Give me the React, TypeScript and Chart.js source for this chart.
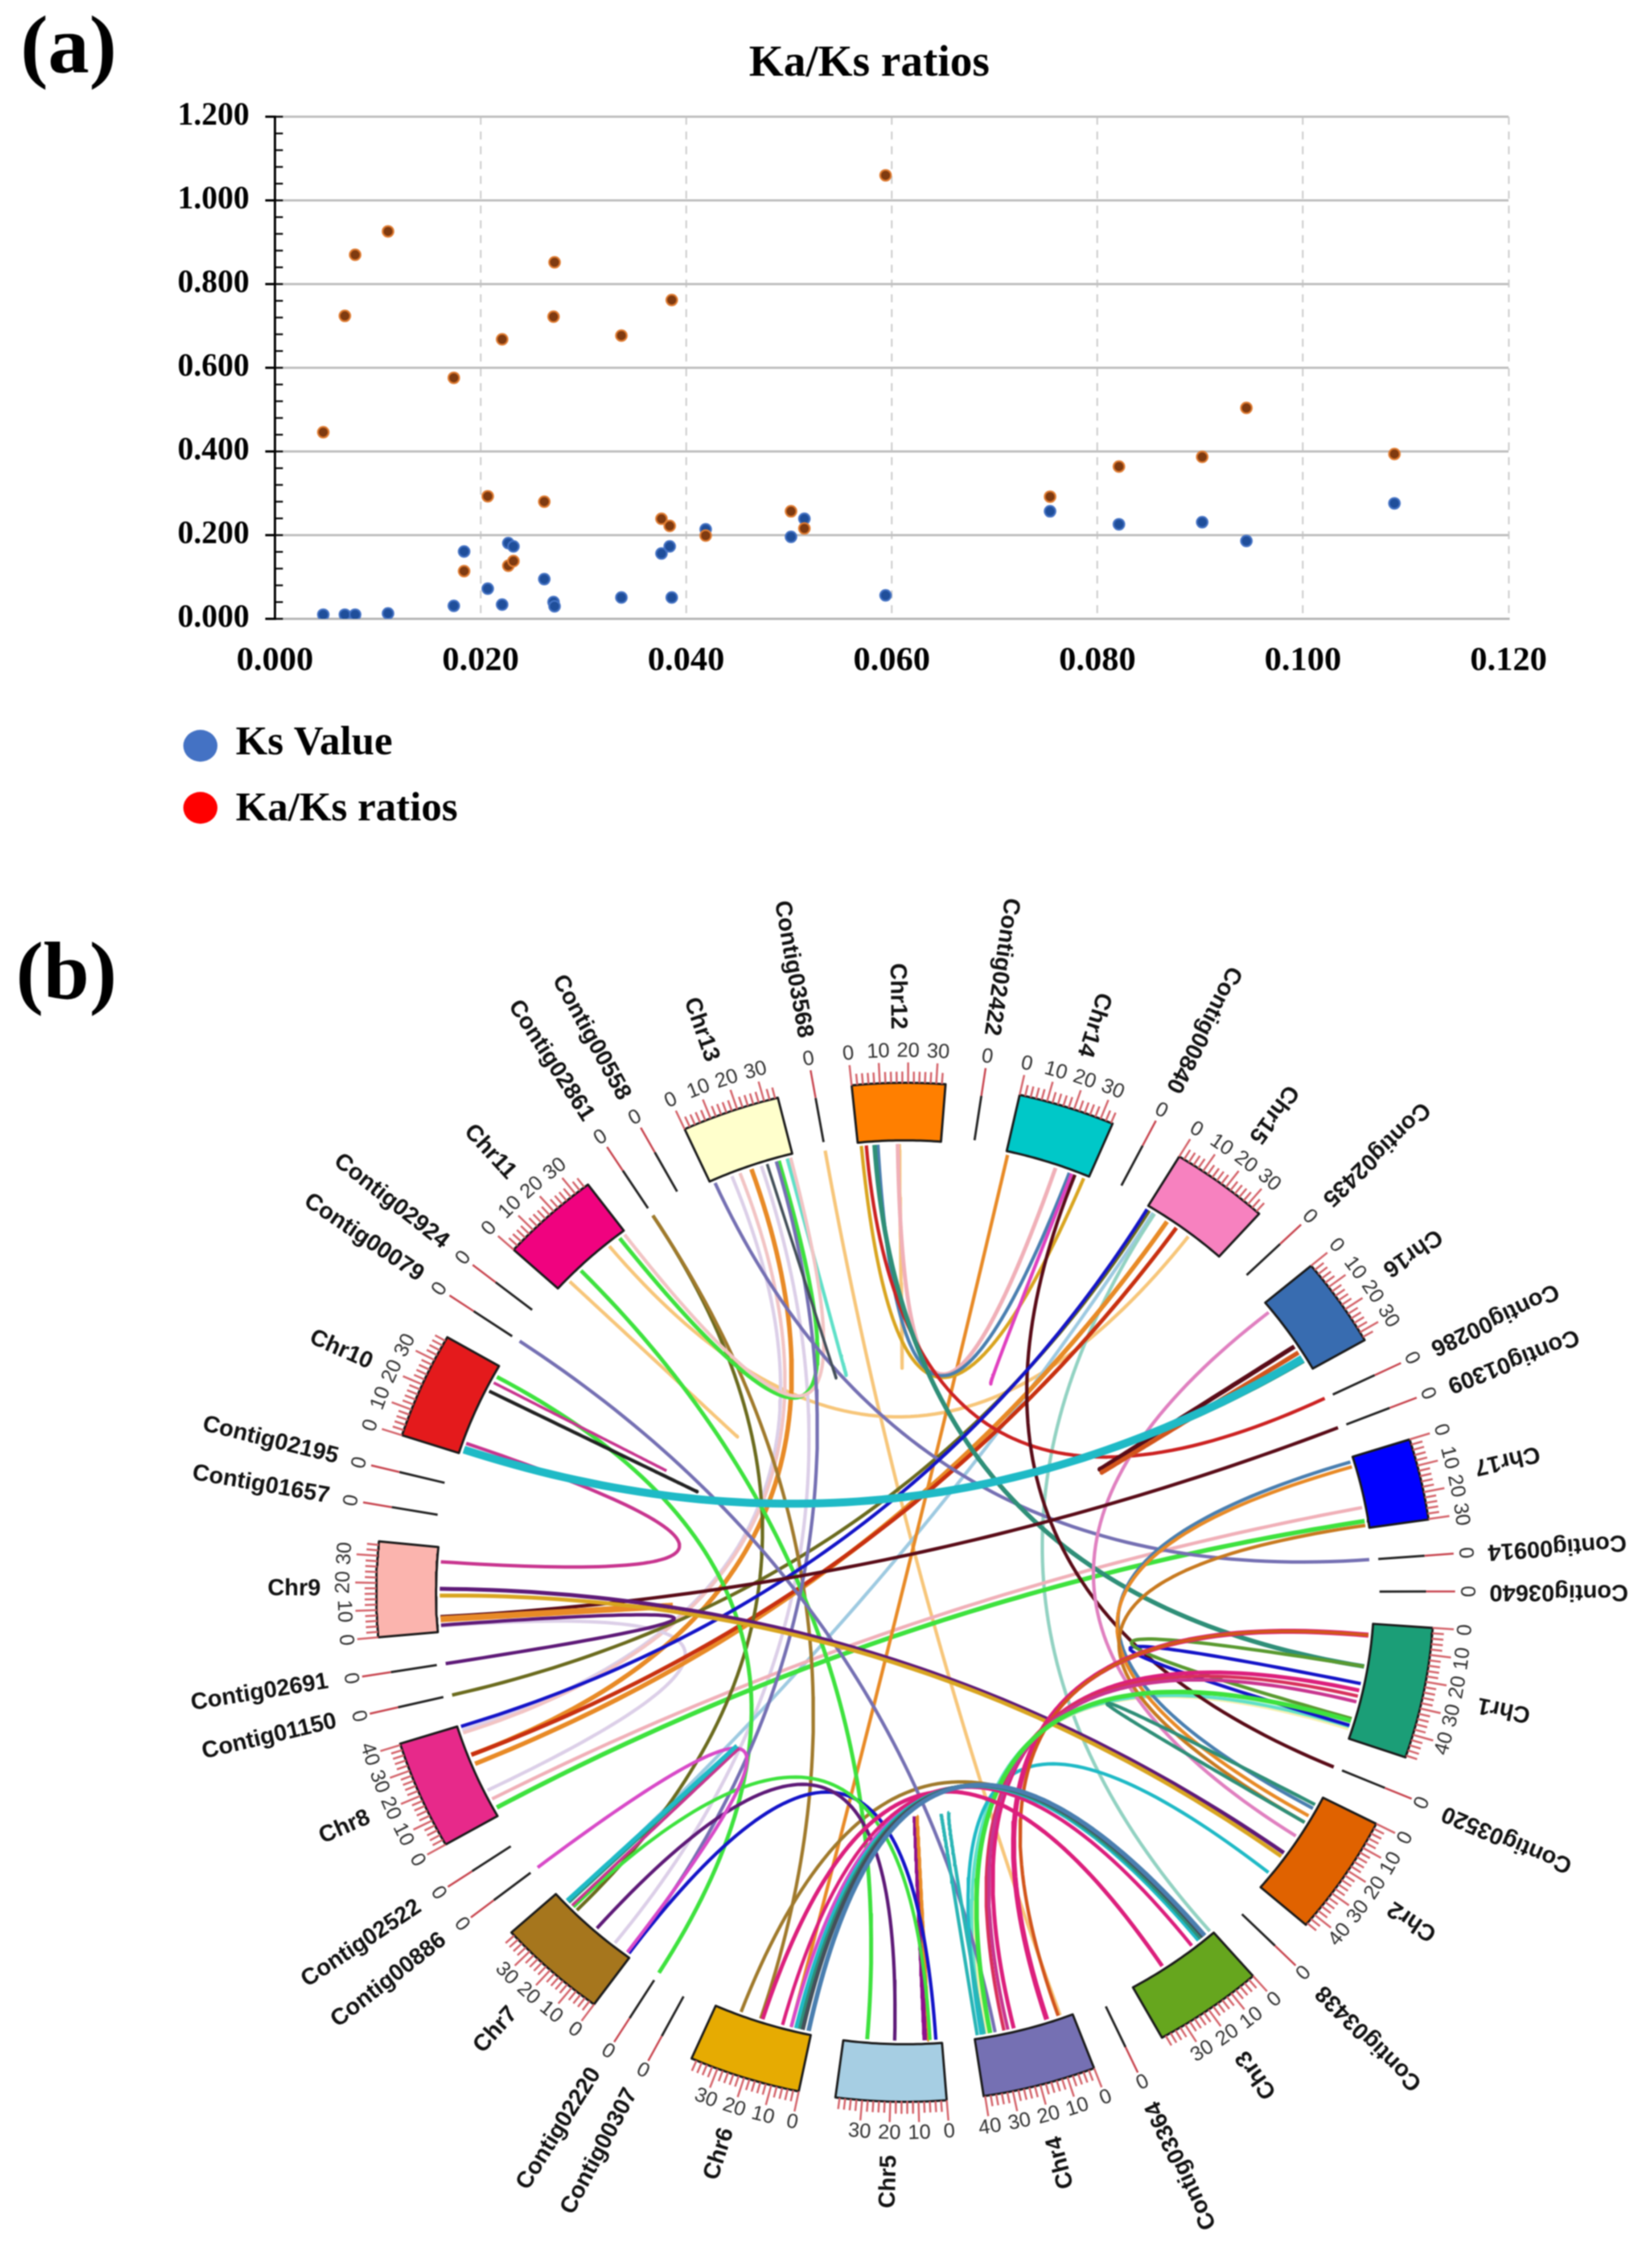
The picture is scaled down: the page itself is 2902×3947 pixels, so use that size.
import React, { useEffect, useRef } from "react";
import { Chart, registerables } from "chart.js";

Chart.register(...registerables);

// ---------- panel (a) ----------
const ksX = [0.0047, 0.0068, 0.0078, 0.011, 0.0174, 0.0184, 0.0207, 0.0221, 0.0227, 0.0232, 0.0262, 0.0271, 0.0272, 0.0337, 0.0376, 0.0384, 0.0386, 0.0419, 0.0502, 0.0515, 0.0594, 0.0754, 0.0821, 0.0902, 0.0945, 0.1089];
const ksValue = [0.01, 0.01, 0.01, 0.013, 0.031, 0.161, 0.072, 0.034, 0.181, 0.173, 0.095, 0.04, 0.03, 0.051, 0.156, 0.173, 0.051, 0.214, 0.196, 0.239, 0.056, 0.257, 0.226, 0.231, 0.186, 0.276];
const kaKsRatio = [0.446, 0.724, 0.87, 0.926, 0.576, 0.114, 0.293, 0.668, 0.127, 0.138, 0.28, 0.722, 0.852, 0.677, 0.239, 0.222, 0.762, 0.199, 0.257, 0.216, 1.06, 0.292, 0.364, 0.387, 0.504, 0.394];

// ---------- panel (b) ----------
const sectorNames = ["Chr1", "Contig03520", "Chr2", "Contig03438", "Chr3", "Contig03364", "Chr4", "Chr5", "Chr6", "Contig00307", "Contig02220", "Chr7", "Contig00886", "Contig02522", "Chr8", "Contig01150", "Contig02691", "Chr9", "Contig01657", "Contig02195", "Chr10", "Contig00079", "Contig02924", "Chr11", "Contig02861", "Contig00558", "Chr13", "Contig03568", "Chr12", "Contig02422", "Chr14", "Contig00840", "Chr15", "Contig02435", "Chr16", "Contig00286", "Contig01309", "Chr17", "Contig00914", "Contig03640"];
const chrLengths: Record<string, number> = { Chr1: 48.7, Chr2: 44.8, Chr3: 39.5, Chr4: 40.5, Chr5: 39.5, Chr6: 39.9, Chr7: 39.5, Chr8: 40.5, Chr9: 35.3, Chr10: 39.5, Chr11: 35.6, Chr12: 33.3, Chr13: 35, Chr14: 34.6, Chr15: 35.3, Chr16: 33.3, Chr17: 30.2 };
const chrColors: Record<string, string> = { Chr1: "#1b9e77", Chr2: "#e06200", Chr3: "#66a61e", Chr4: "#7570b3", Chr5: "#a6cee3", Chr6: "#e6ab02", Chr7: "#a6761d", Chr8: "#e7298a", Chr9: "#fbb4ae", Chr10: "#e41a1c", Chr11: "#f0027f", Chr12: "#ff7f00", Chr13: "#ffffcc", Chr14: "#00c8c8", Chr15: "#f781bf", Chr16: "#386cb0", Chr17: "#0000ff" };

const purple = "#7570b3", green = "#3ee23e", paleOrange = "#f7c67a", orange = "#e88a26", maroon = "#5a0c18", blue = "#1414c8", olive = "#6b6b1e", brown = "#a07a2c", teal = "#2f8f78", lav = "#dccfe8", palePink = "#f2c4c4", pink = "#f0b0b8", magenta = "#c8358f", hot = "#dc1f7c", dpurple = "#5e1a78", steel = "#4a7fb0", gold = "#d9a520", red = "#cc2222", cyan = "#1fbac6", mint = "#5fe0c8", paleBlue = "#9ecae1", paleTeal = "#92d2c2", slate = "#44505a", orchid = "#d84ac8", violet = "#8d108c", rust = "#d2551c", olivegreen = "#5a9a30", yellowish = "#f5f0b0", pinkish = "#e080c0", brick = "#c83010", rose = "#d8305c";

// from sector, fraction along it, to sector, fraction along it, colour, width, share of the curve shown
type Link = [string, number, string, number, string, number, number?];
const links: Link[] = [
  ["Chr13", 0.93, "Chr13", 0.93, mint, 6, 0.5],
  ["Chr11", 0.15, "Chr11", 0.15, paleOrange, 6, 0.5],
  ["Chr11", 0.76, "Chr15", 0.58, paleOrange, 6],
  ["Contig03568", 0, "Chr4", 0.12, paleOrange, 6],
  ["Chr12", 0.5, "Chr12", 0.5, paleOrange, 6, 0.5],
  ["Chr13", 0.26, "Chr8", 0.95, lav, 6],
  ["Chr13", 0.36, "Chr8", 0.92, palePink, 6],
  ["Chr13", 0.62, "Chr7", 0.21, lav, 6],
  ["Chr9", 0.07, "Chr8", 0.28, lav, 6],
  ["Chr15", 0.09, "Chr7", 0.86, paleBlue, 6],
  ["Chr15", 0.11, "Chr3", 0.02, paleTeal, 6],
  ["Chr1", 0.92, "Chr4", 0.88, yellowish, 6],
  ["Chr4", 0.91, "Chr1", 0.9, mint, 6],
  ["Chr17", 0.71, "Chr8", 0.18, pink, 6],
  ["Chr17", 0.9, "Chr8", 0.08, green, 8],
  ["Chr14", 0.02, "Chr6", 0.21, orange, 6],
  ["Chr13", 0.5, "Chr8", 0.68, orange, 8],
  ["Chr15", 0.28, "Chr8", 0.58, orange, 8],
  ["Chr15", 0.41, "Chr8", 0.68, brick, 7],
  ["Chr15", 0.04, "Contig01150", 0, olive, 6],
  ["Contig02861", 0, "Chr7", 0.73, olive, 6],
  ["Contig02861", 0, "Chr6", 0.53, brown, 6],
  ["Chr6", 0.74, "Chr3", 0.13, brown, 6],
  ["Chr11", 0.33, "Chr5", 0.76, green, 7],
  ["Chr10", 0.89, "Contig02220", 0, green, 7],
  ["Chr11", 0.91, "Chr13", 0.83, green, 7],
  ["Chr11", 0.98, "Chr13", 0.97, palePink, 6],
  ["Chr13", 0.05, "Contig00914", 0, purple, 6],
  ["Contig00079", 0, "Chr4", 0.79, purple, 6],
  ["Chr13", 0.8, "Chr7", 0.03, purple, 6],
  ["Chr13", 0.69, "Chr13", 0.69, slate, 5, 0.5],
  ["Chr10", 0.82, "Chr10", 0.82, magenta, 5, 0.3],
  ["Chr10", 0.72, "Chr10", 0.72, "#222222", 6, 0.5],
  ["Chr10", 0.12, "Chr9", 0.83, magenta, 6],
  ["Chr12", 0.04, "Chr14", 0.95, gold, 6],
  ["Chr12", 0.48, "Chr14", 0.6, pink, 7],
  ["Chr12", 0.24, "Chr14", 0.77, steel, 6],
  ["Chr12", 0.1, "Contig00286", 0, red, 6],
  ["Chr12", 0.2, "Chr1", 0.37, teal, 8],
  ["Chr14", 0.8, "Chr14", 0.92, "#e040c0", 6, 0.5],
  ["Chr14", 0.84, "Contig03520", 0, maroon, 6],
  ["Chr15", 0.01, "Chr8", 0.99, blue, 6],
  ["Chr16", 0.12, "Chr2", 0.43, pinkish, 6],
  ["Chr16", 0.65, "Chr16", 0.65, maroon, 8, 0.5],
  ["Chr16", 0.74, "Chr16", 0.74, rust, 8, 0.5],
  ["Contig01309", 0, "Chr9", 0.18, maroon, 6],
  ["Chr9", 0.15, "Chr9", 0.15, orange, 11, 0.5],
  ["Chr9", 0.08, "Contig02691", 0, dpurple, 6],
  ["Chr2", 0.62, "Chr9", 0.51, dpurple, 7],
  ["Chr2", 0.66, "Chr9", 0.43, gold, 7],
  ["Chr17", 0.06, "Chr2", 0.13, steel, 6],
  ["Chr17", 0.13, "Chr2", 0.21, orange, 6],
  ["Chr17", 0.96, "Chr2", 0.28, "#c87a20", 6],
  ["Chr2", 0.09, "Chr2", 0.3, teal, 6, 0.5],
  ["Chr2", 0.28, "Chr2", 0.12, teal, 6, 0.5],
  ["Chr2", 0.85, "Chr4", 0.93, cyan, 6],
  ["Chr1", 0.52, "Chr1", 0.89, blue, 6],
  ["Chr1", 0.37, "Chr1", 0.83, olivegreen, 6],
  ["Chr1", 0.1, "Chr4", 0.26, hot, 9],
  ["Chr1", 0.1, "Chr4", 0.14, rust, 6],
  ["Chr1", 0.58, "Chr4", 0.6, hot, 7],
  ["Chr1", 0.63, "Chr4", 0.7, rose, 6],
  ["Chr1", 0.68, "Chr4", 0.66, magenta, 6],
  ["Chr1", 0.85, "Chr4", 0.84, green, 8],
  ["Chr4", 0.97, "Chr4", 0.97, "#2ab5b5", 6, 0.5],
  ["Chr4", 0.9, "Chr4", 0.72, "#2ab5b5", 6, 0.5],
  ["Chr5", 0.17, "Chr5", 0.17, violet, 9, 0.5],
  ["Chr5", 0.13, "Chr5", 0.13, orange, 6, 0.5],
  ["Chr7", 0.03, "Chr5", 0.06, blue, 6],
  ["Chr7", 0.78, "Chr5", 0.12, green, 6],
  ["Chr7", 0.45, "Chr5", 0.48, dpurple, 6],
  ["Contig00886", 0, "Chr7", 0.05, orchid, 6],
  ["Chr7", 0.85, "Chr7", 0.85, teal, 7, 0.5],
  ["Chr7", 0.87, "Chr7", 0.87, cyan, 8, 0.5],
  ["Chr7", 0.8, "Chr7", 0.8, magenta, 5, 0.5],
  ["Chr6", 0.51, "Chr3", 0.63, hot, 7],
  ["Chr6", 0.21, "Chr3", 0.26, orchid, 6],
  ["Chr6", 0.3, "Chr3", 0.26, hot, 6],
  ["Chr6", 0.16, "Chr3", 0.17, cyan, 7],
  ["Chr6", 0.12, "Chr3", 0.14, teal, 7],
  ["Chr6", 0.09, "Chr3", 0.11, slate, 7],
  ["Chr6", 0.03, "Chr3", 0.09, steel, 8],
  ["Chr10", 0.04, "Chr16", 0.86, teal, 8],
  ["Chr10", 0.05, "Chr16", 0.83, cyan, 14],
];

const K = 0.306; // degrees per Mb
const FIRST = 94;
const R_IN = 0.887, R_OUT = 1.0, R_LINK = 0.88;
const COL_TICK = "#d4636a";
const FONT_SANS = '"Liberation Sans", Arial, sans-serif';
const FONT_SERIF = '"Liberation Serif", serif';

type Seg = { name: string; a0: number; a1: number; len: number; isChr: boolean };
const sectors: Seg[] = (() => {
  const contigLen = 0.2;
  const lens = sectorNames.map((n) => chrLengths[n] ?? contigLen);
  const total = lens.reduce((s, v) => s + v * K, 0);
  const gap = (360 - total) / sectorNames.length;
  let a = FIRST;
  return sectorNames.map((name, i) => {
    const s = { name, a0: a, a1: a + lens[i] * K, len: lens[i], isChr: name in chrLengths };
    a = s.a1 + gap;
    return s;
  });
})();
const byName = Object.fromEntries(sectors.map((s) => [s.name, s]));
const polar = (deg: number, r: number) => {
  const t = (deg * Math.PI) / 180;
  return { x: r * Math.sin(t), y: r * Math.cos(t) };
};
const gapPt = { x: NaN, y: NaN };

function linkCurve(l: Link) {
  const [a, fa, b, fb, , , tEnd = 1] = l;
  const sa = byName[a], sb = byName[b];
  const p0 = polar(sa.a0 + (sa.a1 - sa.a0) * fa, R_LINK);
  const p2 = polar(sb.a0 + (sb.a1 - sb.a0) * fb, R_LINK);
  const pts = [];
  const n = 70;
  for (let i = 0; i <= n; i++) {
    const t = (i / n) * tEnd;
    pts.push({ x: (1 - t) * (1 - t) * p0.x + t * t * p2.x, y: (1 - t) * (1 - t) * p0.y + t * t * p2.y });
  }
  return pts;
}

function sectorShape(s: Seg) {
  const pts = [];
  const n = 24;
  for (let i = 0; i <= n; i++) pts.push(polar(s.a0 + ((s.a1 - s.a0) * i) / n, R_OUT));
  for (let i = n; i >= 0; i--) pts.push(polar(s.a0 + ((s.a1 - s.a0) * i) / n, R_IN));
  pts.push(pts[0]);
  return pts;
}

function tickPath(s: Seg) {
  const pts: { x: number; y: number }[] = [];
  for (let v = 0; v <= s.len; v += 2) {
    const deg = s.a0 + v * K;
    pts.push(polar(deg, R_OUT), polar(deg, v % 10 === 0 ? 1.04 : 1.022), gapPt);
  }
  return pts;
}

const lineSet = (data: any[], color: string, width: number, extra: any = {}) => ({
  data, borderColor: color, borderWidth: width, showLine: true, pointRadius: 0, pointHoverRadius: 0,
  tension: 0, spanGaps: false, borderCapStyle: "butt", borderJoinStyle: "round", fill: false, ...extra,
});

const circosText = {
  id: "circosText",
  afterDatasetsDraw(chart: any) {
    const { ctx, scales } = chart;
    const at = (deg: number, r: number) => {
      const p = polar(deg, r);
      return [scales.x.getPixelForValue(p.x), scales.y.getPixelForValue(p.y)];
    };
    ctx.save();
    ctx.textBaseline = "middle";
    for (const s of sectors) {
      ctx.fillStyle = "#333333";
      ctx.font = `36px ${FONT_SANS}`;
      ctx.textAlign = "center";
      for (let v = 0; v <= s.len; v += 10) {
        const deg = s.a0 + v * K;
        const norm = ((deg % 360) + 360) % 360;
        const rot = norm > 90 && norm < 270 ? norm - 180 : norm;
        const [x, y] = at(deg, 1.062);
        ctx.save();
        ctx.translate(x, y);
        ctx.rotate((rot * Math.PI) / 180);
        ctx.fillText(String(v), 0, 0);
        ctx.restore();
      }
      const mid = (s.a0 + s.a1) / 2;
      const [x, y] = at(mid, 1.105);
      ctx.save();
      ctx.translate(x, y);
      ctx.rotate(((mid + 90) * Math.PI) / 180);
      ctx.textAlign = "right";
      ctx.fillStyle = "#111111";
      ctx.font = `bold 41px ${FONT_SANS}`;
      ctx.fillText(s.name, 0, 0);
      ctx.restore();
    }
    ctx.restore();
  },
};

const scatterExtras = {
  id: "scatterExtras",
  afterDraw(chart: any) {
    const { ctx, scales } = chart;
    const { y } = scales;
    ctx.save();
    ctx.strokeStyle = "#000";
    ctx.lineWidth = 3;
    for (let i = 0; i <= 30; i++) {
      const py = y.getPixelForValue(i * 0.04);
      ctx.beginPath();
      ctx.moveTo(485, py);
      ctx.lineTo(497, py);
      ctx.stroke();
    }
    ctx.fillStyle = "#000";
    ctx.textBaseline = "middle";
    ctx.textAlign = "center";
    ctx.font = `bold 78px ${FONT_SERIF}`;
    ctx.fillText("Ka/Ks ratios", 1527, 113);
    ctx.textAlign = "left";
    ctx.font = `bold 145px ${FONT_SERIF}`;
    ctx.fillText("(a)", 36, 90);
    ctx.font = `bold 72px ${FONT_SERIF}`;
    ctx.fillText("Ks Value", 414, 1306);
    ctx.fillText("Ka/Ks ratios", 414, 1422);
    ctx.fillStyle = "#4472c4";
    ctx.beginPath();
    ctx.ellipse(352, 1310, 30, 28, 0, 0, Math.PI * 2);
    ctx.fill();
    ctx.fillStyle = "#ff0000";
    ctx.beginPath();
    ctx.ellipse(352, 1419, 30, 28, 0, 0, Math.PI * 2);
    ctx.fill();
    ctx.restore();
  },
};

const panelB = {
  id: "panelB",
  afterDraw(chart: any) {
    const { ctx } = chart;
    ctx.save();
    ctx.fillStyle = "#000";
    ctx.textBaseline = "middle";
    ctx.textAlign = "left";
    ctx.font = `bold 145px ${FONT_SERIF}`;
    ctx.fillText("(b)", 28, 217);
    ctx.restore();
  },
};

export default function App() {
  const aRef = useRef<HTMLCanvasElement>(null);
  const bRef = useRef<HTMLCanvasElement>(null);

  useEffect(() => {
    const chartA = new Chart(aRef.current!, {
      type: "scatter",
      data: {
        datasets: [
          {
            label: "Ka/Ks ratios",
            data: ksX.map((x, i) => ({ x, y: kaKsRatio[i] })),
            backgroundColor: "#7f3a10",
            borderColor: "#e07b30",
            borderWidth: 3,
            pointRadius: 9.5,
          },
          {
            label: "Ks Value",
            data: ksX.map((x, i) => ({ x, y: ksValue[i] })),
            backgroundColor: "#1f4e9a",
            borderColor: "#4472c4",
            borderWidth: 3,
            pointRadius: 9.5,
          },
        ],
      },
      options: {
        animation: false,
        responsive: false,
        devicePixelRatio: 1,
        layout: { padding: { top: 205, right: 252, left: 0, bottom: 0 } },
        plugins: { legend: { display: false }, tooltip: { enabled: false } },
        scales: {
          x: {
            type: "linear",
            min: 0,
            max: 0.12,
            afterFit: (s: any) => { s.height = 413; },
            grid: { color: "#d0d0d0", lineWidth: 3, drawTicks: false },
            border: { display: true, color: "#b5b5b5", width: 4, dash: [14, 12] },
            ticks: {
              stepSize: 0.02,
              color: "#000",
              padding: 38,
              maxRotation: 0,
              font: { family: "Liberation Serif", size: 60, weight: "bold" },
              callback: (v: any) => Number(v).toFixed(3),
            },
          },
          y: {
            type: "linear",
            min: 0,
            max: 1.2,
            afterFit: (s: any) => { s.width = 483; },
            grid: { color: "#bfbfbf", lineWidth: 4, tickColor: "#000", tickLength: 17, tickWidth: 4 },
            border: { display: true, color: "#000", width: 4 },
            ticks: {
              stepSize: 0.2,
              color: "#000",
              padding: 28,
              font: { family: "Liberation Serif", size: 56, weight: "bold" },
              callback: (v: any) => Number(v).toFixed(3),
            },
          },
        },
      },
      plugins: [scatterExtras],
    } as any);

    const datasets: any[] = [];
    for (const s of sectors) {
      if (s.isChr) {
        datasets.push(lineSet(sectorShape(s), "#1a1a1a", 4, { fill: "shape", backgroundColor: chrColors[s.name], label: s.name }));
        datasets.push(lineSet(tickPath(s), COL_TICK, 3.5, { label: s.name + " ticks" }));
      } else {
        datasets.push(lineSet([polar(s.a0, 0.897), polar(s.a0, 0.985)], "#222222", 4, { label: s.name }));
        datasets.push(lineSet([polar(s.a0, 0.985), polar(s.a0, 1.04)], "#c8454f", 3.5, { label: s.name + " ticks" }));
      }
    }
    for (const l of links) {
      datasets.push(lineSet(linkCurve(l), l[4], l[5], { label: `${l[0]}-${l[2]}` }));
    }
    // Chart.js paints the first dataset last, so the list is reversed to keep the last link on top
    datasets.reverse();

    const W = 2902, H = 2447, cx = 1590, cy = 1297, rx = 929, ry = 895;
    const chartB = new Chart(bRef.current!, {
      type: "scatter",
      data: { datasets },
      options: {
        animation: false,
        responsive: false,
        devicePixelRatio: 1,
        layout: { padding: 0 },
        elements: { point: { radius: 0 } },
        plugins: { legend: { display: false }, tooltip: { enabled: false } },
        scales: {
          x: { type: "linear", display: false, min: -cx / rx, max: (W - cx) / rx },
          y: { type: "linear", display: false, min: -(H - cy) / ry, max: cy / ry },
        },
      },
      plugins: [circosText, panelB],
    } as any);

    return () => {
      chartA.destroy();
      chartB.destroy();
    };
  }, []);

  return (
    <div style={{ position: "absolute", left: 0, top: 0, width: 2902, height: 3947, background: "#fff", overflow: "hidden" }}>
      <canvas ref={aRef} width={2902} height={1500} style={{ position: "absolute", left: 0, top: 0, filter: "blur(1.2px)" }} />
      <canvas ref={bRef} width={2902} height={2447} style={{ position: "absolute", left: 0, top: 1500, filter: "blur(1.2px)" }} />
    </div>
  );
}
